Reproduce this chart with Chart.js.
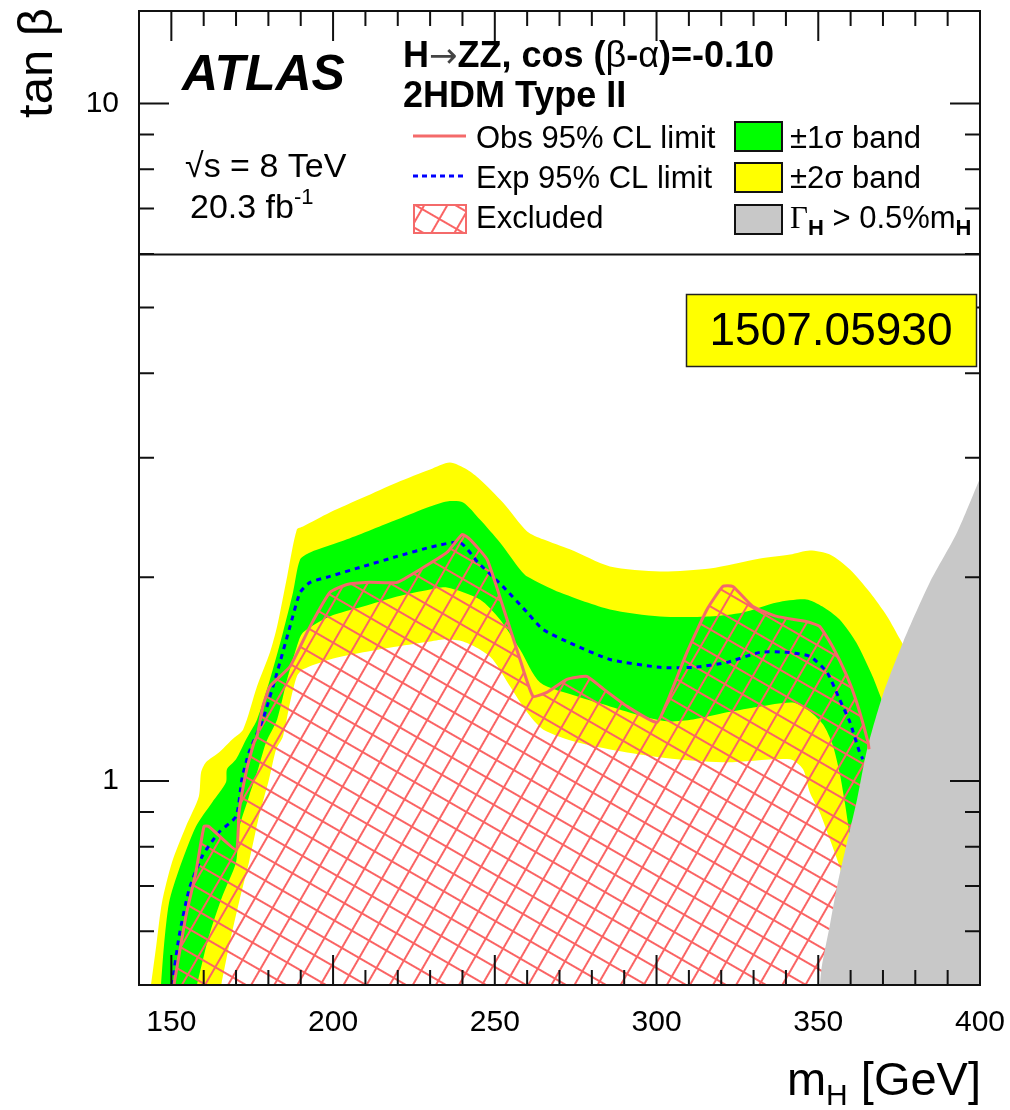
<!DOCTYPE html>
<html>
<head>
<meta charset="utf-8">
<script src="https://cdn.jsdelivr.net/npm/chart.js@4.4.1/dist/chart.umd.min.js"></script>
<style>
  html, body { margin: 0; padding: 0; background: #fff; }
  #wrap { width: 1010px; height: 1110px; }
</style>
</head>
<body>
<div id="wrap"><canvas id="limits" width="1010" height="1110"></canvas></div>
<script>
// H->ZZ 2HDM type II, cos(b-a) = -0.10 : contours in (m_H [GeV], tan beta)
const massTicks = [150, 200, 250, 300, 350, 400];
const tanbTicks = [1, 10];

const plus2Sigma = [[143.7,0.5],[145.3,0.57],[147.1,0.662],[150.2,0.759],[154.5,0.857],[158.5,0.949],[159.2,1.03],[160.7,1.066],[164.7,1.102],[168.8,1.152],[172.2,1.192],[176.5,1.38],[180.5,1.549],[182.7,1.692],[185.8,2.005],[188.8,2.352],[190.7,2.376],[199,2.492],[209.3,2.622],[219.8,2.76],[230,2.884],[236.1,2.953],[241.4,2.884],[245.4,2.788],[252.5,2.578],[260,2.336],[264.9,2.274],[273.2,2.198],[285.6,2.074],[301.1,2.039],[316.5,2.06],[332,2.131],[341.3,2.16],[347.4,2.19],[353.6,2.16],[359.8,2.053],[366,1.898],[371.3,1.75],[375.3,1.619],[376.2,1.591]];
const plus1Sigma = [[146.8,0.5],[147.7,0.57],[149.3,0.662],[152.4,0.741],[157.6,0.857],[162.6,0.93],[166.9,0.996],[167.2,1.041],[170,1.077],[173.1,1.152],[176.5,1.233],[180.5,1.413],[184.5,1.657],[187.6,1.898],[189.8,2.124],[192.9,2.175],[204.3,2.274],[219.8,2.433],[230,2.543],[235.2,2.587],[240.2,2.578],[245.4,2.433],[251.6,2.25],[257.8,2.053],[260,2.005],[270.2,1.898],[285.6,1.792],[301.1,1.75],[316.5,1.75],[326.7,1.774],[337.2,1.835],[346.3,1.854],[351.3,1.81],[356.6,1.732],[361.8,1.6],[366.8,1.427],[369.6,1.32]];
const minus1Sigma = [[157.9,0.5],[161.6,0.59],[165.7,0.675],[170,0.759],[170.9,0.849],[174,0.949],[176.8,1.041],[179.3,1.141],[182.7,1.233],[185.8,1.413],[188.8,1.58],[190.7,1.657],[199,1.75],[209.3,1.81],[219.8,1.873],[230,1.918],[235.2,1.931],[245.4,1.854],[251.6,1.732],[257.8,1.564],[264,1.398],[275.4,1.334],[285.6,1.289],[295.8,1.246],[303.2,1.225],[311.3,1.233],[321.8,1.263],[332,1.289],[342.2,1.306],[347.4,1.267],[351.5,1.212],[354.4,1.133],[356.7,1.023],[358.3,0.924],[359.8,0.826]];
const minus2Sigma = [[165.4,0.5],[167.8,0.57],[170.9,0.662],[174,0.759],[177.1,0.887],[180.2,1.006],[182.4,1.114],[184.5,1.164],[186.7,1.306],[188.8,1.427],[190.7,1.462],[199,1.512],[209.3,1.549],[219.8,1.58],[230,1.607],[235.2,1.619],[240.2,1.607],[245.4,1.564],[249.4,1.512],[254.7,1.38],[260,1.263],[264.9,1.192],[275.4,1.141],[290.9,1.102],[306.3,1.077],[321.8,1.066],[341.3,1.077],[345.3,1.041],[347.4,0.962],[350.5,0.898],[353.6,0.82],[356.6,0.748],[357.3,0.723]];
const expLimit = [[150.2,0.5],[152.4,0.59],[155.5,0.692],[159.5,0.774],[164.7,0.84],[170,0.887],[171.8,1.006],[174,1.102],[178.3,1.233],[182.7,1.447],[186.7,1.692],[189.8,1.898],[192.9,1.965],[199,2.005],[209.3,2.074],[219.8,2.146],[230,2.213],[239.2,2.25],[244.8,2.102],[252.5,1.938],[260,1.774],[264.9,1.674],[273.2,1.6],[285.6,1.512],[301.1,1.472],[311.3,1.472],[321.8,1.497],[332,1.549],[340.3,1.549],[347.4,1.528],[352.7,1.447],[356.6,1.32],[359.8,1.221],[362.8,1.102],[363.8,1.077]];
const obsLimit = [[150.8,0.5],[154.5,0.632],[157.6,0.734],[160.1,0.857],[161.6,0.857],[170,0.792],[170.9,0.898],[173.1,1.03],[175.6,1.141],[176.5,1.164],[178.3,1.289],[180.5,1.38],[186.7,1.476],[192.9,1.692],[199,1.898],[204.3,1.951],[211.4,1.965],[219.8,1.965],[226.9,2.053],[235.2,2.175],[239.9,2.312],[242.3,2.274],[247.6,2.124],[252.5,1.81],[257.8,1.512],[261.8,1.334],[266.1,1.352],[272.3,1.413],[278.5,1.427],[282.5,1.38],[290.9,1.289],[300.1,1.221],[303.2,1.306],[309.4,1.549],[315.6,1.792],[320.5,1.938],[323.6,1.938],[329.8,1.81],[337.2,1.75],[346.3,1.72],[350.4,1.692],[354.4,1.58],[358.9,1.427],[361.9,1.306],[365.4,1.141],[365.7,1.114]];
// Gamma_H > 0.5% m_H region (below this curve)
const widthLimit = [[350.5,0.5],[351.1,0.533],[353.5,0.61],[355.8,0.699],[358.9,0.812],[362,0.94],[365.1,1.114],[370,1.342],[376.2,1.602],[384.5,1.965],[392.9,2.328],[400,2.8]];

const FAM = "'Liberation Sans', Arial, Helvetica, sans-serif";
const RED = '#f46a6a';

function makeHatch() {
    let s = 20;
    let c = document.createElement('canvas');
    c.width = s;
    c.height = s;
    let g = c.getContext('2d');
    g.strokeStyle = '#fa6464';
    g.lineWidth = 2;
    g.beginPath();
    g.moveTo(0, s / 2); g.lineTo(s, s / 2);
    g.moveTo(s / 2, 0); g.lineTo(s / 2, s);
    g.stroke();
    let p = g.createPattern(c, 'repeat');
    p.setTransform(new DOMMatrix().rotateSelf(30));
    return p;
}
const hatch = makeHatch();

function pts(arr) {
    return arr.map(([x, y]) => ({x, y}));
}

function area(arr, color, order) {
    return {data: pts(arr), backgroundColor: color, borderColor: 'transparent', borderWidth: 0,
        fill: 'start', pointRadius: 0, tension: 0.25, order: order};
}

function runs(ctx, x, y, list) {
    for (let r of list) {
        ctx.font = r.font;
        ctx.fillStyle = r.color || '#000';
        ctx.fillText(r.text, x, y + (r.dy || 0));
        x += ctx.measureText(r.text).width;
    }
    ctx.fillStyle = '#000';
    return x;
}

function runsWidth(ctx, list) {
    let w = 0;
    for (let r of list) {
        ctx.font = r.font;
        w += ctx.measureText(r.text).width;
    }
    return w;
}

const decorations = {
    id: 'decorations',
    beforeDraw(chart) {
        let ctx = chart.ctx;
        ctx.save();
        ctx.fillStyle = '#fff';
        ctx.fillRect(0, 0, chart.width, chart.height);
        ctx.restore();
    },
    afterDraw(chart) {
        let ctx = chart.ctx;
        let a = chart.chartArea;
        let xs = chart.scales.x;
        let ys = chart.scales.y;
        ctx.save();
        ctx.strokeStyle = '#111';
        ctx.lineWidth = 2;

        // ticks on all four sides, pointing inwards
        ctx.beginPath();
        for (let m = xs.min; m <= xs.max; m += 10) {
            let px = xs.getPixelForValue(m);
            let len = m % 50 === 0 ? 30 : 15;
            ctx.moveTo(px, a.bottom); ctx.lineTo(px, a.bottom - len);
            ctx.moveTo(px, a.top); ctx.lineTo(px, a.top + len);
        }
        for (let d = 0.1; d <= 10; d *= 10) {
            for (let k = 1; k <= 9; k++) {
                let v = d * k;
                if (v <= ys.min || v >= ys.max) continue;
                let py = ys.getPixelForValue(v);
                let len = k === 1 ? 30 : 15;
                ctx.moveTo(a.left, py); ctx.lineTo(a.left + len, py);
                ctx.moveTo(a.right, py); ctx.lineTo(a.right - len, py);
            }
        }
        ctx.stroke();
        ctx.strokeRect(a.left, a.top, a.right - a.left, a.bottom - a.top);

        // legend box border
        let yl = Math.round(ys.getPixelForValue(6)) + 0.5;
        ctx.beginPath();
        ctx.moveTo(a.left, yl); ctx.lineTo(a.right, yl);
        ctx.stroke();

        // axis titles
        ctx.fillStyle = '#000';
        ctx.save();
        ctx.translate(52, 8);
        ctx.rotate(-Math.PI / 2);
        ctx.textAlign = 'right';
        ctx.font = '49px ' + FAM;
        ctx.fillText('tan β', 0, 0);
        ctx.restore();

        let xt = [
            {text: 'm', font: '47px ' + FAM},
            {text: 'H', font: '30px ' + FAM, dy: 10},
            {text: ' [GeV]', font: '47px ' + FAM}
        ];
        runs(ctx, 981 - runsWidth(ctx, xt), 1095, xt);

        // experiment labels
        ctx.textAlign = 'left';
        ctx.font = 'italic bold 50px ' + FAM;
        ctx.fillText('ATLAS', 182, 90);
        ctx.font = '34px ' + FAM;
        ctx.fillText('√s = 8 TeV', 185, 177);
        runs(ctx, 190, 218, [
            {text: '20.3 fb', font: '34px ' + FAM},
            {text: '-1', font: '22px ' + FAM, dy: -14}
        ]);

        let b36 = 'bold 36px ' + FAM;
        let r36 = '36px ' + FAM;
        runs(ctx, 403, 67, [
            {text: 'H', font: b36}, {text: '→', font: "34px 'DejaVu Sans'", color: '#444'},
            {text: 'ZZ, cos (', font: b36},
            {text: 'β', font: r36}, {text: '-', font: b36}, {text: 'α', font: r36},
            {text: ')=-0.10', font: b36}
        ]);
        ctx.font = b36;
        ctx.fillText('2HDM Type II', 403, 107);

        // legend entries
        let r31 = '31px ' + FAM;
        ctx.font = r31;
        ctx.fillText('Obs 95% CL limit', 476, 148);
        ctx.fillText('Exp 95% CL limit', 476, 188);
        ctx.fillText('Excluded', 476, 228);
        ctx.fillText('±1σ band', 790, 148);
        ctx.fillText('±2σ band', 790, 188);
        runs(ctx, 790, 228, [
            {text: 'Γ', font: "31px 'Liberation Serif'"}, {text: 'H', font: 'bold 22px ' + FAM, dy: 7},
            {text: ' > 0.5%m', font: r31}, {text: 'H', font: 'bold 22px ' + FAM, dy: 7}
        ]);

        ctx.lineWidth = 3;
        ctx.strokeStyle = RED;
        ctx.beginPath(); ctx.moveTo(413, 136); ctx.lineTo(466, 136); ctx.stroke();
        ctx.strokeStyle = '#0000ff';
        ctx.setLineDash([5, 4]);
        ctx.beginPath(); ctx.moveTo(413, 176); ctx.lineTo(466, 176); ctx.stroke();
        ctx.setLineDash([]);

        ctx.fillStyle = hatch;
        ctx.fillRect(414, 205, 52, 28);
        ctx.strokeStyle = RED;
        ctx.lineWidth = 2;
        ctx.strokeRect(414, 205, 52, 28);

        let boxes = [['#00ff00', 122], ['#ffff00', 163], ['#c8c8c8', 205]];
        ctx.strokeStyle = '#111';
        for (let [col, top] of boxes) {
            ctx.fillStyle = col;
            ctx.fillRect(735, top, 47, 29);
            ctx.strokeRect(735, top, 47, 29);
        }

        // arXiv tag
        ctx.fillStyle = '#ffff00';
        ctx.fillRect(686, 294, 291, 73);
        ctx.lineWidth = 1.5;
        ctx.strokeStyle = '#222';
        ctx.strokeRect(686.5, 294.5, 290, 72);
        ctx.fillStyle = '#000';
        ctx.font = '46px ' + FAM;
        ctx.textAlign = 'center';
        ctx.textBaseline = 'middle';
        ctx.fillText('1507.05930', 831, 332);
        ctx.restore();
    }
};

Chart.defaults.plugins.legend.display = false;
Chart.defaults.plugins.tooltip.enabled = false;

function noPad(s) {
    s.paddingTop = 0;
    s.paddingBottom = 0;
    s.paddingLeft = 0;
    s.paddingRight = 0;
}

let chart = new Chart(document.getElementById('limits'), {
    type: 'line',
    data: {
        datasets: [
            {data: pts(obsLimit), borderColor: RED, borderWidth: 3, pointRadius: 0, tension: 0.15, fill: false, order: 1},
            {data: pts(expLimit), borderColor: '#0000ff', borderWidth: 3, borderDash: [5, 5], pointRadius: 0, tension: 0.2, fill: false, order: 2},
            area(widthLimit, '#c8c8c8', 3),
            Object.assign(area(obsLimit, hatch, 4), {tension: 0.15}),
            area(minus2Sigma, '#ffffff', 5),
            area(minus1Sigma, '#ffff00', 6),
            area(plus1Sigma, '#00ff00', 7),
            area(plus2Sigma, '#ffff00', 8)
        ]
    },
    options: {
        responsive: false,
        animation: false,
        devicePixelRatio: 1,
        layout: {padding: {left: 0, right: 30, top: 11, bottom: 0}},
        scales: {
            x: {
                type: 'linear', min: 140, max: 400,
                grid: {display: false, drawTicks: false}, border: {display: false},
                afterBuildTicks: s => { s.ticks = massTicks.map(v => ({value: v})); },
                afterFit: s => { s.height = 125; noPad(s); },
                ticks: {color: '#000', font: {family: FAM, size: 30}, padding: 20, maxRotation: 0, autoSkip: false,
                    callback: v => String(v)}
            },
            y: {
                type: 'logarithmic', min: 0.5, max: 13.7,
                grid: {display: false, drawTicks: false}, border: {display: false},
                afterBuildTicks: s => { s.ticks = tanbTicks.map(v => ({value: v})); },
                afterFit: s => { s.width = 139; noPad(s); },
                ticks: {color: '#000', font: {family: FAM, size: 30}, padding: 20, autoSkip: false,
                    callback: v => String(v)}
            }
        }
    },
    plugins: [decorations]
});
</script>
</body>
</html>
